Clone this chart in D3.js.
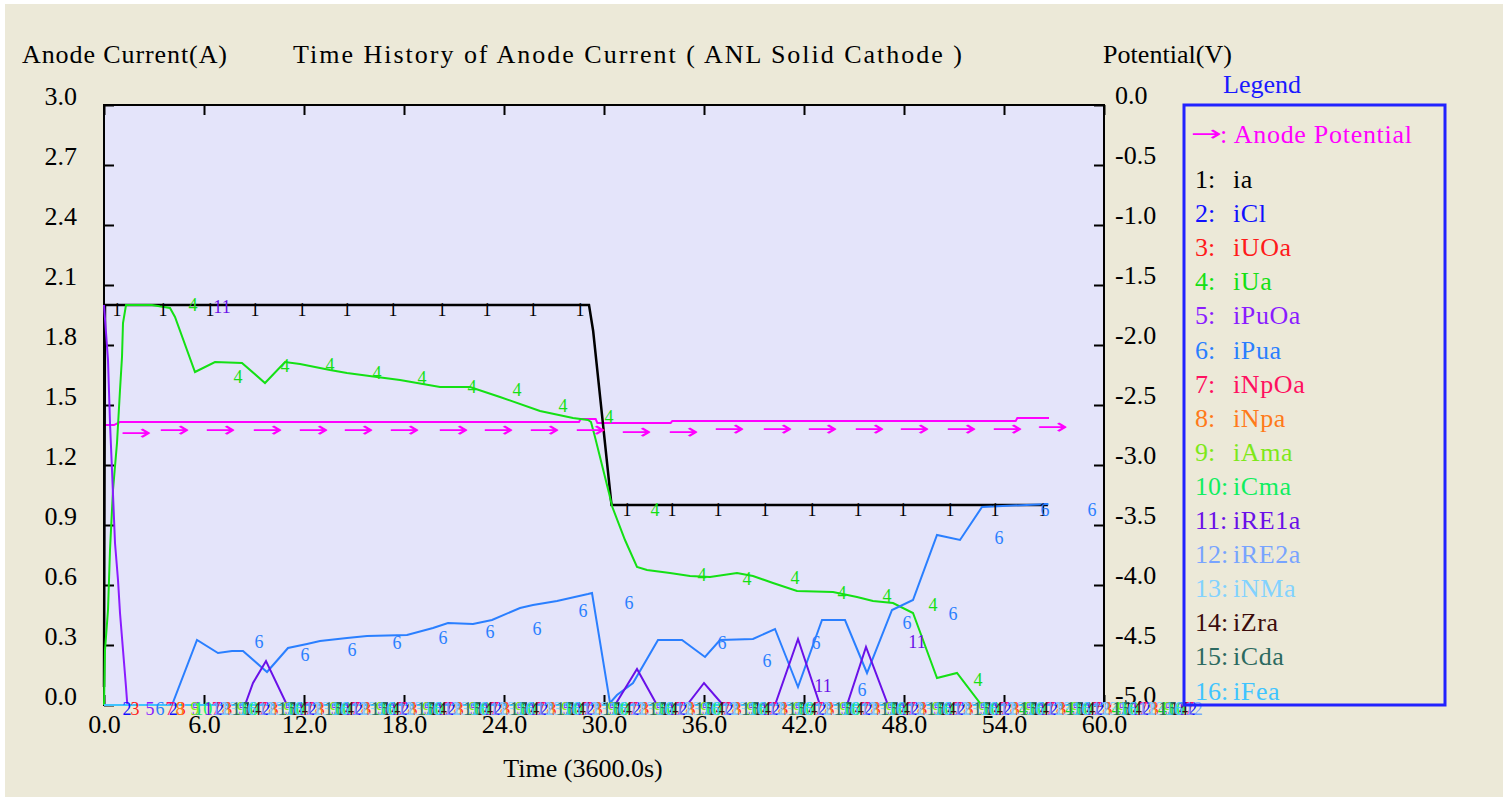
<!DOCTYPE html>
<html>
<head>
<meta charset="utf-8">
<script src="https://cdn.jsdelivr.net/npm/d3@7"></script>
<style>
body { margin: 0; background: #fff; }
svg text { font-family: "Liberation Serif", "Times New Roman", serif; }
</style>
</head>
<body>
<div id="chart"></div>
<script>
// ---- data ----
// time is in units of 3600 s, current in A, potential in V
var timeTicks = [0, 6, 12, 18, 24, 30, 36, 42, 48, 54, 60];
var currentTicks = [0, 0.3, 0.6, 0.9, 1.2, 1.5, 1.8, 2.1, 2.4, 2.7, 3.0];
var potentialTicks = [-5, -4.5, -4, -3.5, -3, -2.5, -2, -1.5, -1, -0.5, 0];

var seriesNames = ["ia", "iCl", "iUOa", "iUa", "iPuOa", "iPua", "iNpOa", "iNpa",
	"iAma", "iCma", "iRE1a", "iRE2a", "iNMa", "iZra", "iCda", "iFea"];
var seriesColors = ["#000000", "#1010ff", "#ff1a1a", "#14e014", "#8a1cff", "#2a7fff", "#ff1060", "#ff7a1a",
	"#7ee81a", "#10ee60", "#6a10e8", "#78a4ff", "#82d2ff", "#3c0c0c", "#2c6a60", "#40c4ff"];

// [time, current]
var ia = [[0, 0.09], [0.06, 2.0], [29.1, 2.0], [29.35, 1.87], [30.45, 1.0], [56.64, 1.0]];
var iUa = [[0, 0], [0.06, 0.275], [0.24, 0.475], [0.36, 0.775], [0.54, 1.075], [0.78, 1.31], [0.96, 1.575],
	[1.08, 1.74], [1.14, 1.91], [1.32, 2.0], [2.88, 2.0], [3.96, 1.985], [4.26, 1.94], [5.46, 1.665],
	[6.66, 1.715], [8.28, 1.71], [9.66, 1.61], [10.86, 1.715], [11.76, 1.705], [13.56, 1.675], [14.58, 1.66],
	[16.38, 1.64], [17.76, 1.625], [20.16, 1.59], [21.96, 1.59], [23.76, 1.54], [26.16, 1.47], [28.14, 1.435],
	[29.04, 1.425], [29.22, 1.415], [29.46, 1.34], [30.3, 1.06], [30.5, 0.99], [31.26, 0.825], [31.98, 0.69],
	[32.58, 0.675], [33.96, 0.66], [35.16, 0.645], [36.36, 0.64], [37.98, 0.66], [38.94, 0.645], [40.14, 0.61],
	[41.58, 0.57], [43.74, 0.565], [45.18, 0.54], [46.14, 0.52], [47.34, 0.51], [48.54, 0.46], [49.14, 0.325],
	[49.98, 0.135], [51.18, 0.16], [52.56, 0.01], [52.7, 0], [60, 0]];
var iPuOa = [[0, 2.0], [0.24, 1.725], [0.36, 1.41], [0.48, 1.175], [0.66, 0.81], [0.84, 0.625], [0.96, 0.46],
	[1.14, 0.275], [1.32, 0.09], [1.4, 0], [60, 0]];
var iPua = [[0, 0], [4.08, 0], [5.58, 0.325], [6.84, 0.26], [7.68, 0.27], [8.34, 0.27], [9.78, 0.165],
	[11.04, 0.285], [12.18, 0.305], [12.96, 0.32], [14.58, 0.335], [15.78, 0.345], [18.18, 0.35], [19.74, 0.385],
	[20.64, 0.41], [22.14, 0.405], [23.28, 0.425], [24.96, 0.485], [25.74, 0.5], [27.18, 0.52], [29.04, 0.555],
	[29.28, 0.56], [30.36, 0.01], [30.78, 0.05], [31.74, 0.11], [33.24, 0.325], [34.68, 0.325], [36.06, 0.24],
	[36.96, 0.325], [38.94, 0.33], [40.26, 0.38], [41.64, 0.09], [43.08, 0.425], [44.46, 0.425], [45.78, 0.16],
	[47.28, 0.475], [48.54, 0.525], [49.98, 0.85], [51.36, 0.825], [52.68, 0.99], [56.64, 1.005]];
var iRE1a = [[0, 0], [8.46, 0], [8.94, 0.11], [9.72, 0.22], [10.98, 0], [30.66, 0], [31.98, 0.18], [33.18, 0],
	[34.98, 0], [36.0, 0.11], [37.14, 0], [40.26, 0], [41.64, 0.33], [42.96, 0], [44.58, 0], [45.72, 0.29],
	[47.04, 0], [60, 0]];
var zeroLine = [[0, 0], [60, 0]];

// anode potential [time, volts]
var anodePotential = [[0, -2.667], [0.6, -2.667], [0.95, -2.642], [28.5, -2.642], [28.6, -2.617], [29.5, -2.617],
	[29.6, -2.65], [34.0, -2.65], [34.1, -2.633], [54.7, -2.633], [54.8, -2.608], [56.7, -2.608]];

// curve labels [time, value] as drawn by the program
var potentialMarks = [[1.0, -2.733], [3.3, -2.71], [6.06, -2.71], [8.88, -2.71], [11.64, -2.71], [14.34, -2.71],
	[17.1, -2.71], [20.04, -2.71], [22.74, -2.71], [25.5, -2.71], [28.26, -2.71], [31.02, -2.725], [33.84, -2.725],
	[36.6, -2.7], [39.48, -2.7], [42.18, -2.7], [45.0, -2.7], [47.7, -2.7], [50.52, -2.7], [53.28, -2.7], [56.0, -2.683]];
var iaLabels = [[0.78, 1.975], [3.54, 1.975], [6.36, 1.975], [9.06, 1.975], [11.88, 1.975], [14.58, 1.975],
	[17.34, 1.975], [20.28, 1.975], [22.98, 1.975], [25.74, 1.975], [28.56, 1.975], [31.38, 0.975], [34.08, 0.975],
	[36.84, 0.975], [39.66, 0.975], [42.48, 0.975], [45.24, 0.975], [47.94, 0.975], [50.76, 0.975], [53.46, 0.975],
	[56.34, 0.975]];
var iUaLabels = [[5.34, 2.0], [8.04, 1.64], [10.86, 1.695], [13.56, 1.70], [16.38, 1.66], [19.08, 1.635],
	[22.08, 1.59], [24.78, 1.575], [27.54, 1.495], [30.3, 1.44], [33.06, 0.975], [35.88, 0.65], [38.58, 0.63],
	[41.46, 0.635], [44.28, 0.56], [46.98, 0.545], [49.74, 0.5], [52.44, 0.125]];
var iPuaLabels = [[9.3, 0.315], [12.06, 0.25], [14.88, 0.275], [17.58, 0.31], [20.34, 0.335], [23.16, 0.365],
	[25.98, 0.38], [28.74, 0.47], [31.5, 0.51], [37.08, 0.31], [39.78, 0.22], [42.72, 0.31], [45.48, 0.075],
	[48.18, 0.41], [50.94, 0.455], [53.7, 0.835], [56.46, 0.975], [59.28, 0.975]];
var iRE1aLabels = [[7.08, 1.99], [43.14, 0.095], [48.78, 0.315]];

// labels of the curves lying on zero: first label time per series, then every labelStep
var labelStep = 2.78;
var labelEnd = 65.6;
var clutterStart = [null, 1.38, 1.86, 2.34, 2.76, 3.36, 3.96, 4.56, 5.46, 5.95, 6.5, 7.0, 7.5, 8.9, 8.2, 8.6];

var seriesData = [ia, zeroLine, zeroLine, iUa, iPuOa, iPua, zeroLine, zeroLine,
	zeroLine, zeroLine, iRE1a, zeroLine, zeroLine, zeroLine, zeroLine, zeroLine];


var opts = {
	width: 1507,
	height: 804,
	left: 104,
	top: 105,
	plotW: 1000,
	plotH: 600
};

drawChart("#chart", opts);


function drawChart(containerID, o) {
	var svg = d3.select(containerID).append("svg")
		.attr("width", o.width)
		.attr("height", o.height);

	svg.append("rect").attr("width", o.width).attr("height", o.height).attr("fill", "#fff");
	svg.append("rect")
		.attr("x", 5).attr("y", 4)
		.attr("width", o.width - 9).attr("height", o.height - 11)
		.attr("fill", "#ECE9D8");

	var x = d3.scaleLinear().domain([0, 60]).range([o.left, o.left + o.plotW]);
	var y = d3.scaleLinear().domain([0, 3]).range([o.top + o.plotH, o.top]);
	var yV = d3.scaleLinear().domain([-5, 0]).range([o.top + o.plotH, o.top]);

	svg.append("rect")
		.attr("x", o.left).attr("y", o.top)
		.attr("width", o.plotW).attr("height", o.plotH)
		.attr("fill", "#E4E4FA")
		.attr("stroke", "#000")
		.attr("stroke-width", 2);

	// axes, ticks pointing into the plot
	var fmt = function(d) { return d.toFixed(1); };

	var gl = svg.append("g").attr("transform", "translate(" + o.left + ",0)")
		.call(d3.axisLeft(y).tickValues(currentTicks).tickFormat(fmt).tickSizeInner(-10).tickSizeOuter(0).tickPadding(27));
	var gr = svg.append("g").attr("transform", "translate(" + (o.left + o.plotW) + ",0)")
		.call(d3.axisRight(yV).tickValues(potentialTicks).tickFormat(fmt).tickSizeInner(-10).tickSizeOuter(0).tickPadding(11));
	var gb = svg.append("g").attr("transform", "translate(0," + (o.top + o.plotH) + ")")
		.call(d3.axisBottom(x).tickValues(timeTicks).tickFormat(fmt).tickSizeInner(-10).tickSizeOuter(0));
	var gt = svg.append("g").attr("transform", "translate(0," + o.top + ")")
		.call(d3.axisTop(x).tickValues(timeTicks).tickFormat("").tickSizeInner(-10).tickSizeOuter(0));

	[gl, gr, gb, gt].forEach(function(g) {
		g.select(".domain").remove();
		g.selectAll("line").attr("stroke", "#000").attr("stroke-width", 2);
		g.selectAll("text").attr("font-size", 26).attr("fill", "#000")
			.style("font-family", "'Liberation Serif', serif");
	});
	gl.selectAll("text").attr("dy", -1);
	gr.selectAll("text").attr("dy", -2);
	gb.selectAll("text").attr("y", 28).attr("dy", 0);

	// titles
	svg.append("text").attr("x", 22).attr("y", 63).attr("font-size", 26)
		.attr("textLength", 205).attr("lengthAdjust", "spacing").text("Anode Current(A)");
	svg.append("text").attr("x", 293).attr("y", 63).attr("font-size", 26)
		.attr("textLength", 669).attr("lengthAdjust", "spacing").text("Time History of Anode Current ( ANL Solid Cathode )");
	svg.append("text").attr("x", 1103).attr("y", 63).attr("font-size", 26)
		.attr("textLength", 129).attr("lengthAdjust", "spacing").text("Potential(V)");
	svg.append("text").attr("x", 583).attr("y", 777).attr("font-size", 26)
		.attr("text-anchor", "middle").text("Time (3600.0s)");

	// potential curve (right axis)
	var lineV = d3.line().x(function(d) { return x(d[0]); }).y(function(d) { return yV(d[1]); });
	svg.append("path").datum(anodePotential)
		.attr("d", lineV).attr("fill", "none")
		.attr("stroke", "#ff00ff").attr("stroke-width", 2);

	// current curves
	var lineI = d3.line().x(function(d) { return x(d[0]); }).y(function(d) { return y(d[1]); });
	svg.selectAll(".series").data(seriesData).enter().append("path")
		.attr("class", "series")
		.attr("d", lineI)
		.attr("fill", "none")
		.attr("stroke", function(d, i) { return seriesColors[i]; })
		.attr("stroke-width", function(d, i) { return i == 0 ? 2.5 : 2; });

	// labels of the curves sitting on zero
	var clutter = [];
	clutterStart.forEach(function(t0, i) {
		if (t0 == null) return;
		for (var t = t0; t <= labelEnd; t += labelStep) {
			if (valueAt(seriesData[i], t) < 0.005) clutter.push({ t: t, k: i });
		}
	});
	svg.selectAll(".zlab").data(clutter).enter().append("text")
		.attr("class", "zlab")
		.attr("x", function(d) { return x(d.t); })
		.attr("y", y(-0.02))
		.attr("dy", "0.35em")
		.attr("text-anchor", "middle")
		.attr("font-size", 18)
		.attr("fill", function(d) { return seriesColors[d.k]; })
		.text(function(d) { return d.k + 1; });

	curveLabels(svg, iaLabels, "1", seriesColors[0], x, y);
	curveLabels(svg, iUaLabels, "4", seriesColors[3], x, y);
	curveLabels(svg, iPuaLabels, "6", seriesColors[5], x, y);
	curveLabels(svg, iRE1aLabels, "11", seriesColors[10], x, y);

	// arrow marks of the potential curve
	var marks = svg.selectAll(".vmark").data(potentialMarks).enter().append("g")
		.attr("class", "vmark")
		.attr("transform", function(d) { return "translate(" + x(d[0]) + "," + yV(d[1]) + ")"; });
	marks.each(function() { longArrow(d3.select(this)); });

	// legend
	svg.append("text").attr("x", 1223).attr("y", 93).attr("font-size", 26)
		.attr("fill", "#1a1aff").text("Legend");
	svg.append("rect")
		.attr("x", 1184).attr("y", 105)
		.attr("width", 261).attr("height", 600)
		.attr("fill", "none")
		.attr("stroke", "#2222ff")
		.attr("stroke-width", 3);
	longArrow(svg.append("g").attr("transform", "translate(1191,134)"));
	svg.append("text").attr("x", 1220).attr("y", 143).attr("font-size", 26)
		.attr("textLength", 192).attr("lengthAdjust", "spacing")
		.attr("fill", "#ff00ff").text(": Anode Potential");

	var leg = svg.selectAll(".leg").data(seriesNames).enter().append("g")
		.attr("class", "leg")
		.attr("transform", function(d, i) { return "translate(0," + (188 + i * 34.1) + ")"; });
	leg.append("text").attr("x", 1195).attr("font-size", 26)
		.attr("fill", function(d, i) { return seriesColors[i]; })
		.text(function(d, i) { return (i + 1) + ":"; });
	leg.append("text").attr("x", 1233).attr("font-size", 26)
		.attr("letter-spacing", 0.6)
		.attr("fill", function(d, i) { return seriesColors[i]; })
		.text(function(d) { return d; });
}

// "→" as text, stretched sideways to the long thin arrow of the original
function longArrow(g) {
	g.append("text")
		.attr("dy", "0.3em")
		.attr("font-size", 22)
		.attr("transform", "scale(1.7,1)")
		.style("font-family", "'DejaVu Sans', sans-serif")
		.attr("fill", "#ff00ff")
		.text("\u2192");
}

function curveLabels(svg, pts, label, color, x, y) {
	svg.append("g").selectAll("text").data(pts).enter().append("text")
		.attr("x", function(d) { return x(d[0]); })
		.attr("y", function(d) { return y(d[1]); })
		.attr("dy", "0.35em")
		.attr("text-anchor", "middle")
		.attr("font-size", 18)
		.attr("fill", color)
		.text(label);
}

function valueAt(pts, t) {
	if (t <= pts[0][0]) return pts[0][1];
	for (var i = 1; i < pts.length; i++) {
		if (t <= pts[i][0]) {
			var a = pts[i - 1], b = pts[i];
			return a[1] + (b[1] - a[1]) * (t - a[0]) / (b[0] - a[0]);
		}
	}
	return pts[pts.length - 1][1];
}
</script>
</body>
</html>
